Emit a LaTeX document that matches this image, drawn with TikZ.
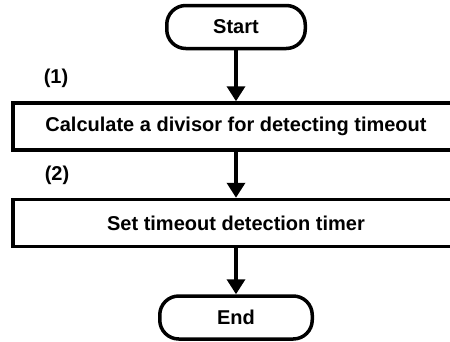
\documentclass[tikz,border=0pt]{standalone}
\usepackage{fontspec}
\setmainfont{Liberation Sans}
\usetikzlibrary{arrows.meta, positioning}

\begin{document}
\begin{tikzpicture}[x=1pt, y=1pt, every node/.style={font=\fontsize{20}{24}\selectfont\bfseries},
  terminal/.style={draw, rectangle, rounded corners=19pt, line width=3.5pt, minimum height=43pt, inner sep=0pt},
  process/.style={draw, rectangle, line width=3.5pt, minimum width=446.5pt, minimum height=47pt, inner sep=0pt},
  flow/.style={-{Triangle[length=15pt, width=18pt]}, line width=3.5pt}]
\useasboundingbox (0,0) rectangle (450,-341);
% Inicio
\node (start) at (236,-27) [terminal, minimum width=138.5pt] {Start};

% Paso (1)
\node (divisor) [process, below=51pt of start] {Calculate a divisor for detecting timeout};
\node (label1) at (56,-78) {(1)};

% Paso (2)
\node (timer) [process, below=46pt of divisor] {Set timeout detection timer};
\node (label2) at (57,-175) {(2)};

% Fin
\node (finish) [terminal, minimum width=152.5pt, below=46pt of timer] {End};

% Flechas
\draw[flow] (start) -- (divisor);
\draw[flow] (divisor) -- (timer);
\draw[flow] (timer) -- (finish);
\end{tikzpicture}
\end{document}
